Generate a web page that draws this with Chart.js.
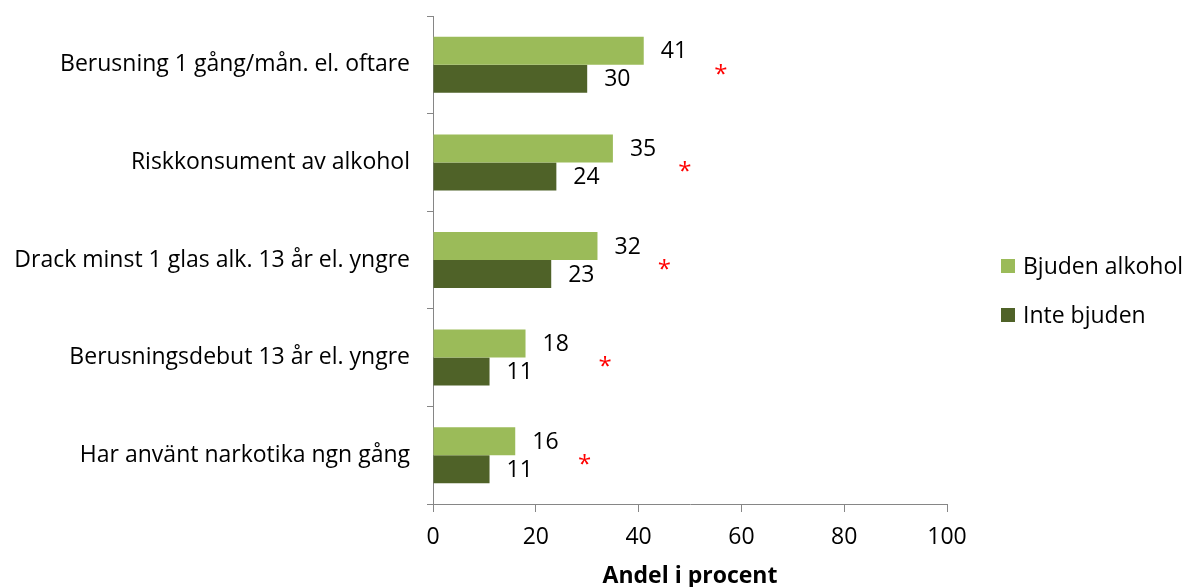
<!DOCTYPE html>
<html>
<head>
<meta charset="utf-8">
<script src="https://cdn.jsdelivr.net/npm/chart.js@4/dist/chart.umd.min.js"></script>
<style>
  html, body { margin: 0; padding: 0; background: #fff; }
  #wrap { width: 1186px; height: 587px; position: relative; }
</style>
</head>
<body>
<div id="wrap"><canvas id="chart"></canvas></div>
<script>
// data
const categories = [
    'Berusning 1 gång/mån. el. oftare',
    'Riskkonsument av alkohol',
    'Drack minst 1 glas alk. 13 år el. yngre',
    'Berusningsdebut 13 år el. yngre',
    'Har använt narkotika ngn gång'
];
const bjudenValues = [41, 35, 32, 18, 16];
const inteBjudenValues = [30, 24, 23, 11, 11];
// där asteriskerna (signifikans) står på x-axeln
const starValues = [56, 49, 45, 33.5, 29.5];
const xTicks = [0, 20, 40, 60, 80, 100];

const FONT = '"Open Sans", sans-serif';
const FONT_SIZE = 23;
const AXIS_COLOR = '#868686';

// värden efter staplarna
const valueLabels = {
    id: 'valueLabels',
    afterDatasetsDraw(chart) {
        const ctx = chart.ctx;
        ctx.save();
        ctx.font = FONT_SIZE + 'px ' + FONT;
        ctx.fillStyle = '#000';
        ctx.textAlign = 'left';
        ctx.textBaseline = 'middle';
        chart.data.datasets.forEach((ds, di) => {
            chart.getDatasetMeta(di).data.forEach((bar, i) => {
                ctx.fillText(String(ds.data[i]), bar.x + 17, bar.y + 1);
            });
        });
        ctx.restore();
    }
};

// röda asterisker
const stars = {
    id: 'stars',
    afterDatasetsDraw(chart) {
        const ctx = chart.ctx;
        const xs = chart.scales.x, ys = chart.scales.y;
        ctx.save();
        ctx.font = '24px ' + FONT;
        ctx.fillStyle = '#ff0000';
        ctx.textAlign = 'center';
        ctx.textBaseline = 'middle';
        starValues.forEach((v, i) => {
            ctx.fillText('*', xs.getPixelForValue(v), ys.getPixelForValue(i) + 10);
        });
        ctx.restore();
    }
};

// teckenförklaring till höger
const sideLegend = {
    id: 'sideLegend',
    afterDraw(chart) {
        const ctx = chart.ctx;
        const left = chart.chartArea.right + 54;
        ctx.save();
        ctx.font = FONT_SIZE + 'px ' + FONT;
        ctx.textAlign = 'left';
        ctx.textBaseline = 'middle';
        chart.data.datasets.forEach((ds, i) => {
            const y = 266 + i * 49;
            ctx.fillStyle = ds.backgroundColor;
            ctx.fillRect(left, y - 7, 14, 14);
            ctx.fillStyle = '#000';
            ctx.fillText(ds.label, left + 22, y + 1);
        });
        ctx.restore();
    }
};

new Chart(document.getElementById('chart'), {
    type: 'bar',
    data: {
        labels: categories,
        datasets: [{
            label: 'Bjuden alkohol',
            data: bjudenValues,
            backgroundColor: '#9BBB59',
            categoryPercentage: 0.574,
            barPercentage: 1
        }, {
            label: 'Inte bjuden',
            data: inteBjudenValues,
            backgroundColor: '#4F6228',
            categoryPercentage: 0.574,
            barPercentage: 1
        }]
    },
    options: {
        indexAxis: 'y',
        responsive: true,
        maintainAspectRatio: false,
        animation: false,
        layout: { padding: { top: 16, right: 239, bottom: 0, left: 0 } },
        plugins: {
            legend: { display: false },
            tooltip: { enabled: false }
        },
        scales: {
            x: {
                min: 0,
                max: 100,
                afterBuildTicks(scale) {
                    scale.ticks = xTicks.map(v => ({ value: v }));
                },
                afterFit(scale) { scale.height = 83; },
                grid: {
                    drawOnChartArea: false,
                    drawTicks: true,
                    tickLength: 8,
                    color: AXIS_COLOR
                },
                border: { color: AXIS_COLOR, width: 1 },
                ticks: {
                    padding: 12,
                    color: '#000',
                    font: { family: FONT, size: FONT_SIZE }
                },
                title: {
                    display: true,
                    text: 'Andel i procent',
                    color: '#000',
                    font: { family: FONT, size: FONT_SIZE, weight: 'bold', lineHeight: 1 },
                    padding: { top: 0, bottom: -1 }
                }
            },
            y: {
                afterFit(scale) {
                    scale.width = 433;
                    scale.paddingTop = 0;
                    scale.paddingBottom = 0;
                },
                grid: {
                    offset: true,
                    drawOnChartArea: false,
                    drawTicks: true,
                    tickLength: 6,
                    color: AXIS_COLOR
                },
                border: { color: AXIS_COLOR, width: 1 },
                ticks: {
                    padding: 17,
                    color: '#000',
                    font: { family: FONT, size: FONT_SIZE }
                }
            }
        }
    },
    plugins: [valueLabels, stars, sideLegend]
});
</script>
</body>
</html>
